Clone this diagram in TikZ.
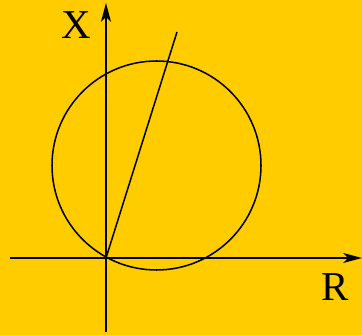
\documentclass[tikz,border=0pt]{standalone}
\usepackage{fontspec}
\setmainfont{Liberation Serif}
\usetikzlibrary{arrows.meta}
\definecolor{bgyellow}{RGB}{255,204,0}

\begin{document}
\begin{tikzpicture}[x=0.03cm,y=0.03cm,line width=1.3pt,
    axis/.style={-{Stealth[length=16pt,width=8.5pt,inset=4pt]}},
    lbl/.style={font=\fontsize{35}{40}\selectfont,inner sep=0pt}]
  \fill[bgyellow] (-106,-77) rectangle (256,258);
  \useasboundingbox (-106,-77) rectangle (256,258);
  \coordinate (O) at (0,0);
  \coordinate (Rl) at (-96,0);
  \coordinate (Rr) at (256,0);
  \coordinate (Xb) at (0,-74);
  \coordinate (Xt) at (0,255);
  \coordinate (C) at (50.5,92.5);
  \coordinate (P) at (71,226);
  \draw[axis] (Rl) -- (Rr);
  \draw[axis] (Xb) -- (Xt);
  \draw (C) circle (104.5);
  \draw (O) -- (P);
  \node[lbl] (X) at (-30,233) {X};
  \node[lbl] (R) at (229,-29) {R};
\end{tikzpicture}
\end{document}
